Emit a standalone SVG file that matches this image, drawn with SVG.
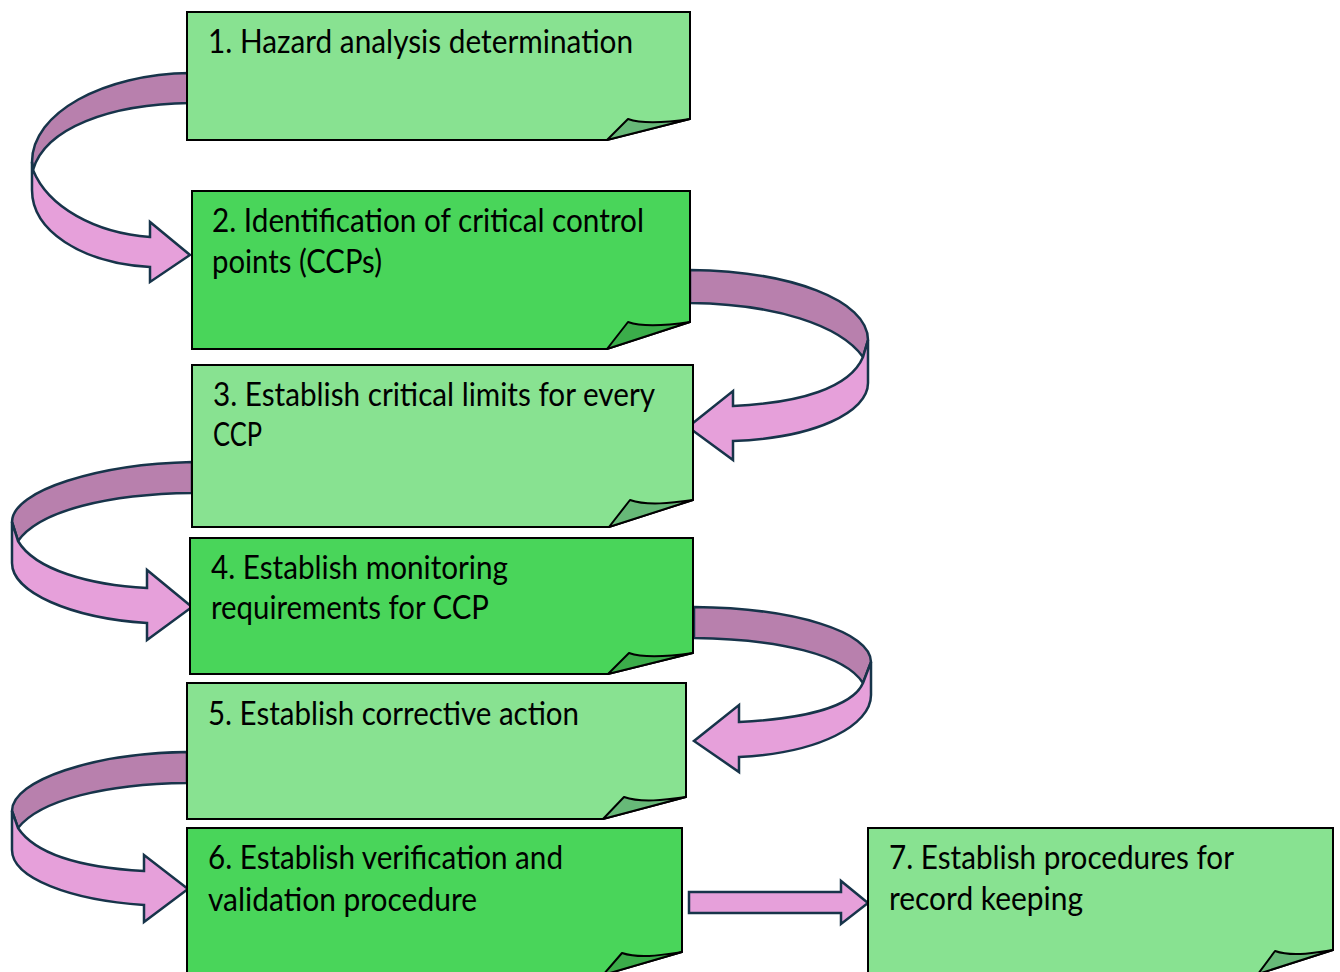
<svg xmlns="http://www.w3.org/2000/svg" width="1340" height="972" viewBox="0 0 1340 972">
<style>
.light{fill:#88E291;stroke:#000;stroke-width:2;stroke-linejoin:miter}
.dark{fill:#49D55A;stroke:#000;stroke-width:2;stroke-linejoin:miter}
.foldL{fill:#67B978;stroke:#000;stroke-width:2;stroke-linejoin:round}
.foldD{fill:#3BAD4A;stroke:#000;stroke-width:2;stroke-linejoin:round}
.back{fill:#B880AD;stroke:#17344A;stroke-width:2.5;stroke-linejoin:round}
.front{fill:#E6A0DA;stroke:#17344A;stroke-width:2.5;stroke-linejoin:miter}
.t{font-family:Lato,"Liberation Sans",sans-serif;font-size:32px;fill:#000}
</style>
<rect width="1340" height="972" fill="#fff"/>
<g id="connectors">
  <g id="arrow1-2">
    <path class="back" d="M190,73 C103,74 32,113 32,162 L33,170 C45,128 110,104 190,103 Z"/>
    <path class="front" d="M33,170 C48,207 95,233 150,237 L150,222 L190,255 L150,282 L150,267 C80,263 32,230 32,190 L32,162 Z"/>
  </g>
  <g id="arrow2-3">
    <path class="back" d="M690,270 C790,271 868,300 868,340 L863,357 C840,325 775,304 690,303 Z"/>
    <path class="front" d="M863,357 C850,388 800,403 733,406 L733,391 L688,427 L733,460 L733,441 C815,438 868,412 868,383 L868,340 Z"/>
  </g>
  <g id="arrow3-4">
    <path class="back" d="M192,462 C100,464 12,490 12,522 L18,541 C40,510 110,494 192,493 Z"/>
    <path class="front" d="M18,541 C35,570 90,585 147,588 L147,570 L192,607 L147,640 L147,623 C70,618 12,592 12,563 L12,522 Z"/>
  </g>
  <g id="arrow4-5">
    <path class="back" d="M694,607 C795,608 871,632 871,662 L863,683 C845,655 780,639 694,638 Z"/>
    <path class="front" d="M863,683 C852,708 800,719 739,722 L739,705 L694,741 L739,772 L739,757 C820,753 871,725 871,695 L871,662 Z"/>
  </g>
  <g id="arrow5-6">
    <path class="back" d="M187,752 C95,753 12,780 12,811 L18,828 C40,800 105,784 187,783 Z"/>
    <path class="front" d="M18,828 C38,858 90,868 144,871 L144,855 L188,889 L144,922 L144,905 C70,900 12,878 12,850 L12,811 Z"/>
  </g>
  <g id="arrow6-7">
    <path class="front" d="M689,892 L841,892 L841,881 L868,903 L841,924 L841,913 L689,913 Z"/>
  </g>
</g>
<g id="node1">
  <path class="light" d="M187,12 H690 V119 L607,140 H187 Z"/>
  <path class="foldL" d="M607,140 L628,119 C645,125 670,122 690,119 Z"/>
  <text class="t" x="208" y="53" textLength="425" lengthAdjust="spacingAndGlyphs">1. Hazard analysis determination</text>
</g>
<g id="node2">
  <path class="dark" d="M192,191 H690 V322 L607,349 H192 Z"/>
  <path class="foldD" d="M607,349 L628,322 C645,328 670,325 690,322 Z"/>
  <text class="t" x="212" y="232" textLength="432" lengthAdjust="spacingAndGlyphs">2. Identification of critical control</text>
  <text class="t" x="212" y="273" textLength="170" lengthAdjust="spacingAndGlyphs">points (CCPs)</text>
</g>
<g id="node3">
  <path class="light" d="M192,365 H693 V500 L609,527 H192 Z"/>
  <path class="foldL" d="M609,527 L630,500 C647,506 672,503 693,500 Z"/>
  <text class="t" x="213" y="406" textLength="442" lengthAdjust="spacingAndGlyphs">3. Establish critical limits for every</text>
  <text class="t" x="213" y="446" textLength="49" lengthAdjust="spacingAndGlyphs">CCP</text>
</g>
<g id="node4">
  <path class="dark" d="M190,538 H693 V653 L608,674 H190 Z"/>
  <path class="foldD" d="M608,674 L629,653 C646,659 672,656 693,653 Z"/>
  <text class="t" x="211" y="579" textLength="297" lengthAdjust="spacingAndGlyphs">4. Establish monitoring</text>
  <text class="t" x="211" y="619" textLength="278" lengthAdjust="spacingAndGlyphs">requirements for CCP</text>
</g>
<g id="node5">
  <path class="light" d="M187,683 H686 V797 L603,819 H187 Z"/>
  <path class="foldL" d="M603,819 L624,797 C641,803 665,800 686,797 Z"/>
  <text class="t" x="208" y="725" textLength="371" lengthAdjust="spacingAndGlyphs">5. Establish corrective action</text>
</g>
<g id="node6">
  <path class="dark" d="M187,828 H682 V952 L603,975 H187 Z"/>
  <path class="foldD" d="M603,975 L622,953 C640,959 662,955 682,952 Z"/>
  <text class="t" x="208" y="869" textLength="355" lengthAdjust="spacingAndGlyphs">6. Establish verification and</text>
  <text class="t" x="208" y="911" textLength="269" lengthAdjust="spacingAndGlyphs">validation procedure</text>
</g>
<g id="node7">
  <path class="light" d="M868,828 H1333 V950 L1258,974 H868 Z"/>
  <path class="foldL" d="M1258,974 L1275,951 C1292,957 1313,953 1333,950 Z"/>
  <text class="t" x="889" y="869" textLength="345" lengthAdjust="spacingAndGlyphs">7. Establish procedures for</text>
  <text class="t" x="889" y="910" textLength="194" lengthAdjust="spacingAndGlyphs">record keeping</text>
</g>
</svg>
